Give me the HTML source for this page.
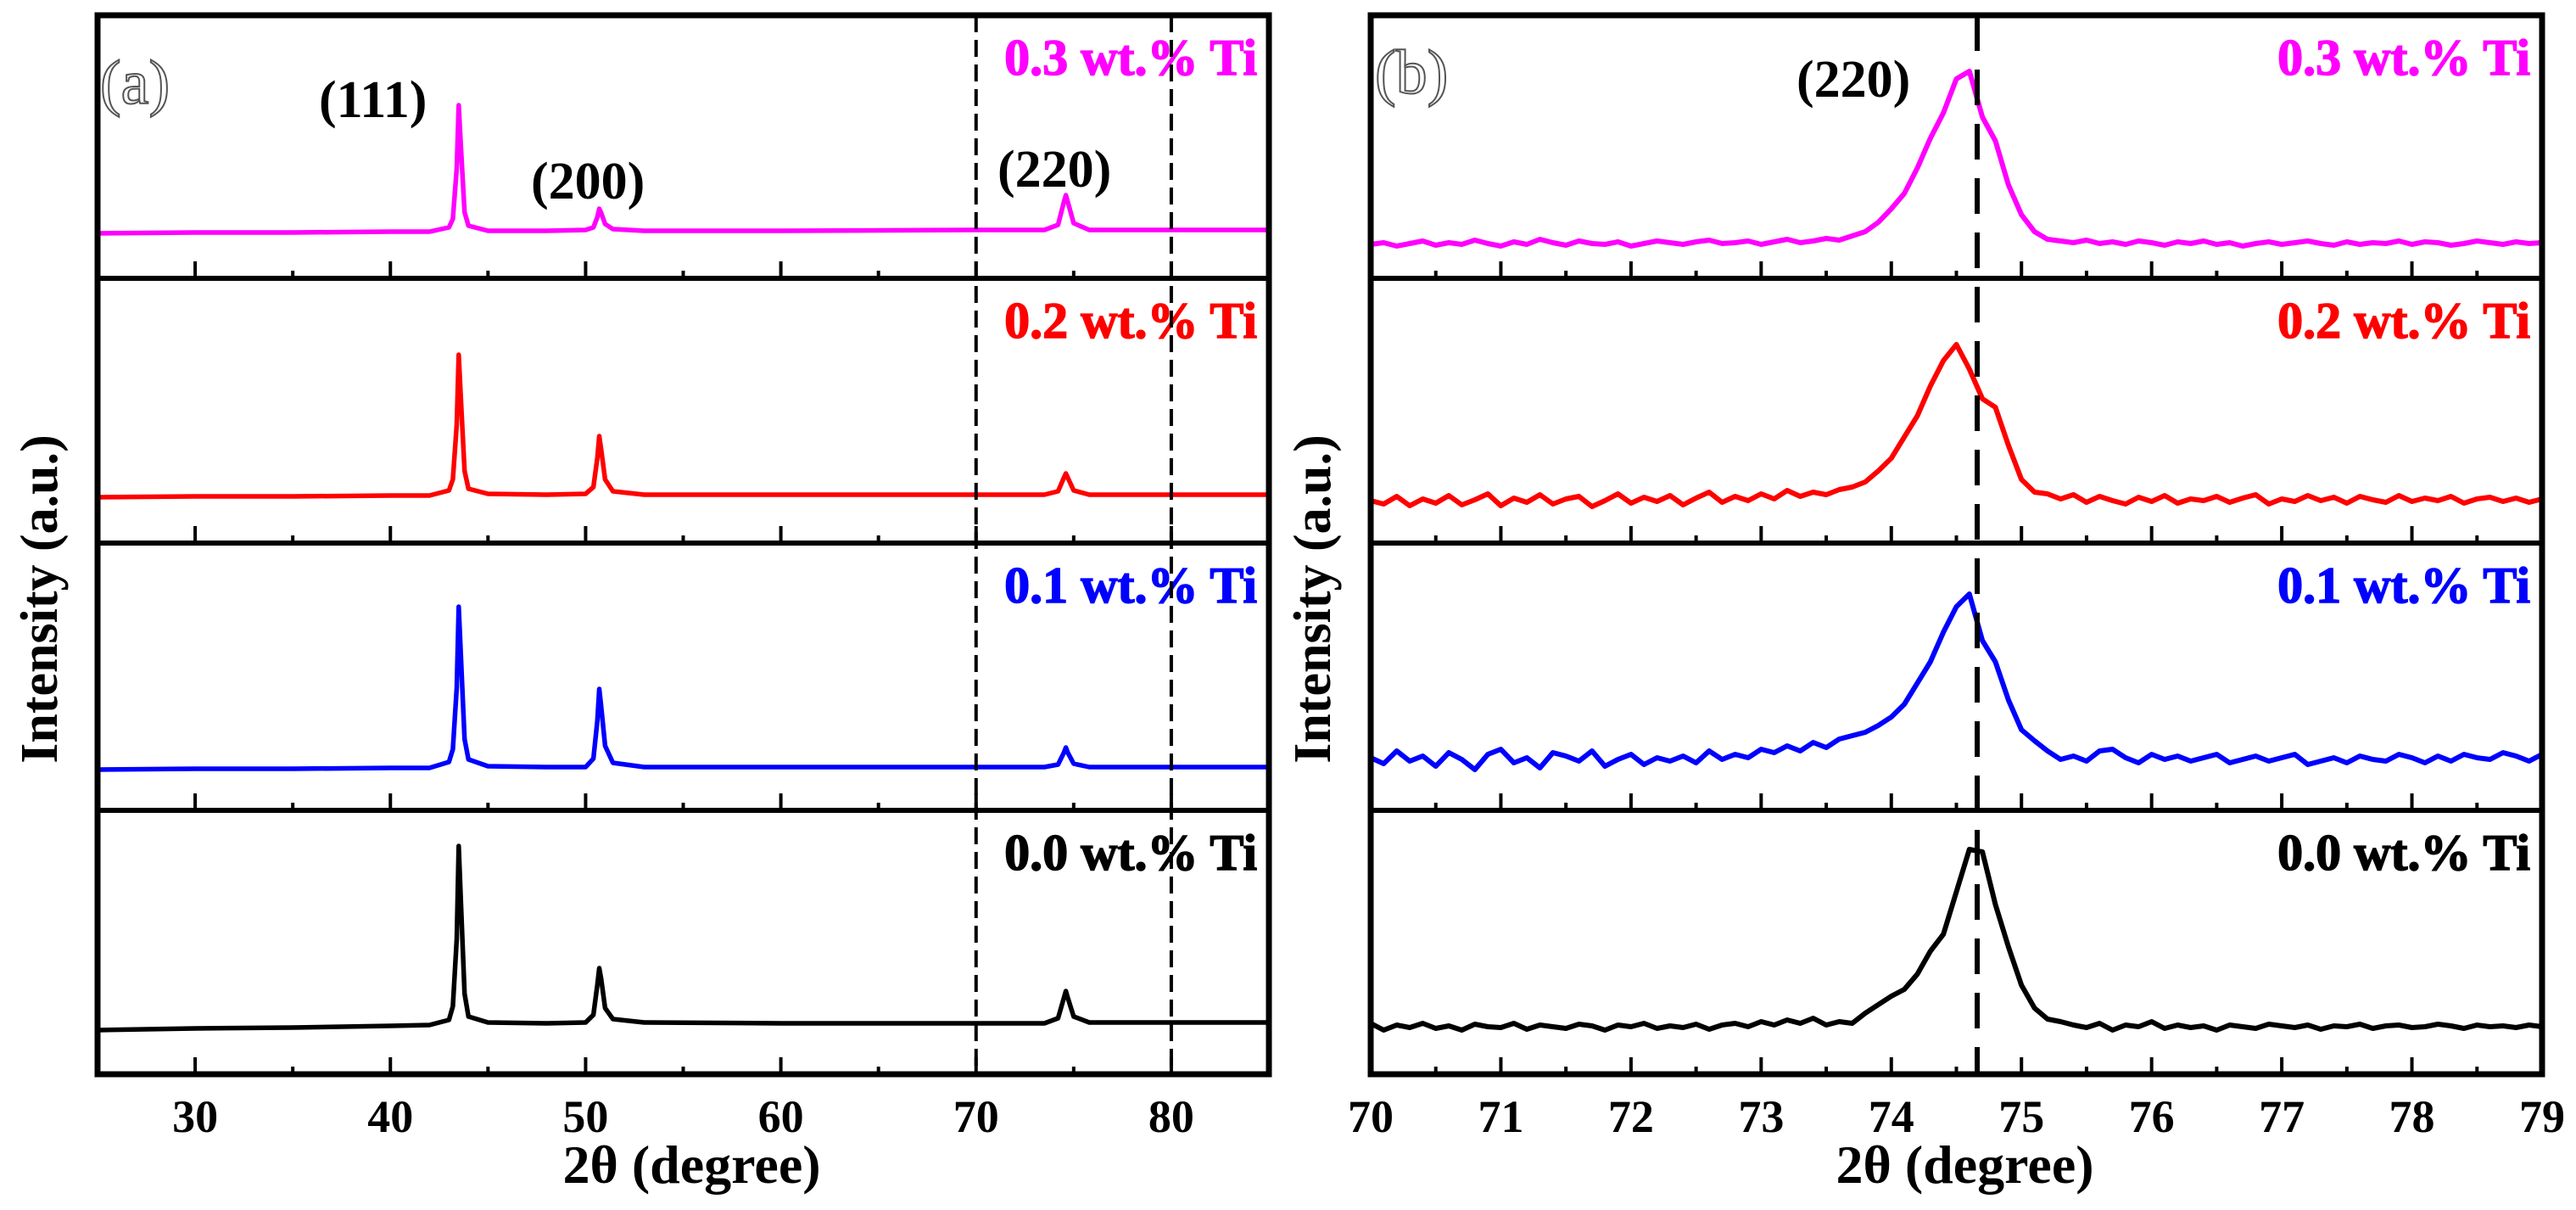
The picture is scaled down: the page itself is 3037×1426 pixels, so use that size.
<!DOCTYPE html>
<html><head><meta charset="utf-8"><style>
html,body{margin:0;padding:0;background:#fff;}
svg{display:block;}
text{font-family:"Liberation Serif",serif;font-weight:bold;}
</style></head><body>
<svg id="fig" width="3037" height="1426" viewBox="0 0 3037 1426" xmlns="http://www.w3.org/2000/svg"></svg>
<script>
// ---------- data ----------
const seriesNames = ["0.3 wt.% Ti","0.2 wt.% Ti","0.1 wt.% Ti","0.0 wt.% Ti"];
const seriesColors = ["#ff00ff","#ff0000","#0000ff","#000000"];
const ticksA = [30,40,50,60,70,80];
const ticksB = [70,71,72,73,74,75,76,77,78,79];
const peakLabelsA = ["(111)","(200)","(220)"];
// panel (a) x positions (2θ)
const xA = [25,30,35,40,42,43,43.2,43.4,43.5,43.6,43.8,44,45,48,50,50.4,50.6,50.7,50.8,51,51.4,53,60,70,73.5,74.2,74.5,74.6,74.7,75,75.8,80,85];
const a03 = [53,54,54,55,55,60,70,130,204,160,78,62,56,56,57,60,72,82,77,64,58,56,56,57,57,63,90,98,90,65,57,57,57];
const a02 = [54,55,55,56,56,62,75,140,222,175,85,64,58,57,58,66,100,126,110,75,61,57,57,57,57,61,77,82,77,62,57,57,57];
const a01 = [48,49,49,50,50,57,72,145,240,188,84,60,52,51,51,61,105,143,122,76,56,51,51,51,51,54,68,74,68,55,51,51,51];
const a00 = [52,54,55,57,58,64,80,160,269,210,95,68,61,60,61,70,105,125,112,78,65,61,60,60,60,66,90,98,90,68,61,61,61];
// panel (b): 70.0 .. 79.0 step 0.1
const xBstart = 70, xBstep = 0.1;
const b03 = [40,42,38,41,44,39,42,40,45,41,38,43,40,46,42,39,44,41,40,43,38,41,44,42,40,43,45,41,42,44,40,43,46,42,44,47,45,
 50,55,66,82,100,130,165,195,235,244,190,162,110,75,55,46,
 44,42,45,41,43,40,44,42,39,43,41,44,40,42,38,41,43,40,42,44,41,39,43,40,42,41,44,40,43,42,39,41,44,42,40,43,41,42];
const b02 = [50,46,55,44,52,47,56,45,51,58,44,53,48,57,46,52,55,43,50,58,47,54,49,56,45,53,60,48,55,50,58,52,62,55,60,57,63,
 66,72,85,100,125,150,185,215,234,205,170,160,115,75,60,58,
 52,57,48,55,50,46,54,49,56,47,52,50,55,48,53,57,46,52,49,56,50,54,47,55,51,48,56,49,53,50,55,47,52,54,49,53,48,52];
const b01 = [62,55,70,58,64,52,68,60,48,66,72,56,62,50,68,64,58,70,52,60,66,54,62,58,64,56,70,60,66,62,72,68,76,70,80,74,84,
 88,92,100,110,125,150,175,210,240,255,200,175,130,95,82,70,
 60,64,58,70,72,62,56,66,60,64,58,62,66,56,60,64,58,62,66,54,58,62,56,64,60,58,66,62,56,64,58,66,62,60,68,64,58,66];
const b00 = [60,52,58,55,60,54,57,52,59,56,55,60,53,58,56,54,59,57,52,58,56,60,54,57,55,59,53,58,60,56,62,58,64,60,66,58,62,
 60,72,82,92,100,118,145,165,215,265,262,200,150,105,78,65,
 62,58,55,60,52,58,56,62,54,58,55,57,52,58,56,54,59,57,55,58,53,57,56,59,54,57,58,55,56,59,57,54,58,56,57,55,58,56];
const refLineB = 74.66;
const boxA = [70,80];

// ---------- layout ----------
const NS = "http://www.w3.org/2000/svg";
const svg = document.getElementById("fig");
const panelTops = [18,328,640,955];
const panelBots = [328,640,955,1266];
const PA = {l:115, r:1496, x0:25, x1:85};
const PB = {l:1616, r:2997, x0:70, x1:79};
const sx = (P,v)=>P.l+(v-P.x0)/(P.x1-P.x0)*(P.r-P.l);
const sy = (i,v)=>panelBots[i]-v;
function el(tag, attrs, parent){const e=document.createElementNS(NS,tag);for(const k in attrs)e.setAttribute(k,attrs[k]);(parent||svg).appendChild(e);return e;}

const aSeries=[a03,a02,a01,a00], bSeries=[b03,b02,b01,b00];

function drawPanel(P, key){
  const g = el("g",{});
  
  
  const majors = key==='a'?ticksA:ticksB;
  const minorStep = key==='a'?5:0.5;
  for(let i=0;i<4;i++){
    for(let v=P.x0; v<=P.x1+1e-9; v+=minorStep){
      const isMaj = majors.some(m=>Math.abs(m-v)<1e-6);
      const x=sx(P,v);
      if(Math.abs(x-P.l)<2||Math.abs(x-P.r)<2) continue;
      const t=el("line",{x1:x,x2:x,y1:panelBots[i],y2:panelBots[i]-(isMaj?20:9),stroke:"#000","stroke-width":4},g);
      
      
    }
    let pts=[];
    if(key==='a'){ xA.forEach((x,j)=>pts.push(sx(P,x).toFixed(1)+","+sy(i,aSeries[i][j]).toFixed(1))); }
    else { bSeries[i].forEach((v,j)=>pts.push(sx(P,xBstart+j*xBstep).toFixed(1)+","+sy(i,v).toFixed(1))); }
    const pl=el("polyline",{points:pts.join(" "),fill:"none",stroke:seriesColors[i],"stroke-width":key==='a'?5.5:6,"stroke-linejoin":"round"},g);
    
    
    const tx=el("text",{x:P.r-14,y:panelTops[i]+70,"text-anchor":"end","font-size":60,fill:seriesColors[i],stroke:seriesColors[i],"stroke-width":1.5},g);
    tx.textContent=seriesNames[i];
    
    
    if(i>0){
      const d=el("line",{x1:P.l,x2:P.r,y1:panelTops[i],y2:panelTops[i],stroke:"#000","stroke-width":6},g);
      
      
    }
  }
  const fr=el("rect",{x:P.l,y:panelTops[0],width:P.r-P.l,height:panelBots[3]-panelTops[0],fill:"none",stroke:"#000","stroke-width":7},g);
  
  
  majors.forEach(m=>{
    const t=el("text",{x:sx(P,m),y:1334,"text-anchor":"middle","font-size":54,fill:"#000"},g);
    t.textContent=m;
    
    
  });
  const xt=el("text",{x:(P.l+P.r)/2+10,y:1394,"text-anchor":"middle","font-size":64,fill:"#000"},g);
  xt.textContent="2θ (degree)";
  
  
  const yx = P.l-68, yc=706;
  const yt=el("text",{x:yx,y:yc,"text-anchor":"middle","font-size":62,fill:"#000",transform:`rotate(-90 ${yx} ${yc})`,dy:20},g);
  yt.textContent="Intensity (a.u.)";
  
  
  return g;
}
const gA=drawPanel(PA,'a');
const gB=drawPanel(PB,'b');

boxA.forEach(v=>{
  const l=el("line",{x1:sx(PA,v),x2:sx(PA,v),y1:panelTops[0],y2:panelBots[3],stroke:"#000","stroke-width":4,"stroke-dasharray":"20 9"},gA);
  
  
});
const rl=el("line",{x1:sx(PB,refLineB),x2:sx(PB,refLineB),y1:panelTops[0],y2:panelBots[3],stroke:"#000","stroke-width":6,"stroke-dasharray":"42 22"},gB);



[["(a)",118,122],["(b)",1621,110]].forEach(([s,x,y])=>{
  const t=el("text",{x:x,y:y,"font-size":74,fill:"#fff",stroke:"#555","stroke-width":2});
  t.style.fontWeight="normal";
  t.textContent=s;
  
  
});
const peakLabelPos=[[376,138],[626,234],[1176,220]];
peakLabelsA.forEach((s,i)=>{
  const t=el("text",{x:peakLabelPos[i][0],y:peakLabelPos[i][1],"font-size":62,fill:"#000"});
  t.textContent=s;
  
  
});
const pb=el("text",{x:2118,y:114,"font-size":62,fill:"#000"});
pb.textContent="(220)";


</script>
</body></html>
